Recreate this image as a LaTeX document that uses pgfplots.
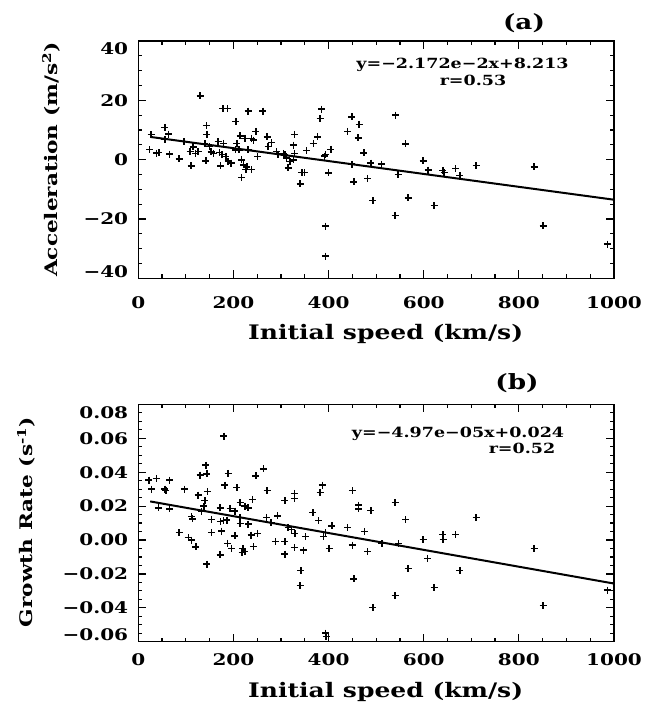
\documentclass[border=0pt]{standalone}
\usepackage{fontspec}
\setmainfont{DejaVu Serif}[FakeStretch=1.25]
\usepackage{pgfplots}
\usepackage{pgfplotstable}
\pgfplotsset{compat=1.18}

\pgfplotstableread{
x y
24 3.4
27 8.4
38 2.2
43 2.4
56 10.9
56 6.9
64 8.6
66 1.9
86 0.3
96 6.1
109 2.8
111 -2.1
115 4.3
120 2.1
126 2.7
130 21.5
140 5.5
143 11.5
144 8.5
142 -0.4
150 4.4
153 2.6
158 2.1
168 6.1
171 2.4
173 -2.1
176 1.8
178 17.2
188 17.2
179 5.5
184 1.0
189 -0.5
195 -1.2
205 12.9
204 3.3
207 5.5
214 8.0
212 3.3
217 -0.1
217 -6.0
221 -1.8
226 -3.4
228 -2.4
238 -3.4
224 7.2
231 16.4
231 3.3
238 7.2
242 6.6
247 9.5
251 1.1
262 16.4
271 7.7
273 4.4
280 5.7
291 2.7
294 1.9
305 2.1
308 1.6
312 0.5
315 -2.8
319 -0.7
326 -0.1
328 8.5
326 4.9
328 2.1
340 -8.2
344 -4.4
349 -4.4
354 3.0
368 5.5
377 7.7
382 13.9
385 17.0
391 1.2
394 1.8
394 -22.4
394 -32.5
400 -4.5
405 3.5
440 9.5
449 14.4
449 -1.5
453 -7.5
462 7.3
464 11.9
474 2.3
482 -6.3
489 -1.2
493 -13.8
511 -1.5
541 15.0
540 -18.8
546 -5.0
562 5.3
567 -12.9
599 -0.4
609 -3.5
622 -15.5
640 -3.6
643 -4.3
667 -3.0
676 -5.4
710 -2.0
832 -2.4
851 -22.3
986 -28.5
}\acctable

\pgfplotstableread{
x y
22 0.0354
28 0.030
38 0.0364
42 0.019
56 0.030
58 0.0293
66 0.0354
66 0.0183
86 0.0043
97 0.030
105 0.0014
112 0.0138
114 0.0125
112 0.000
121 -0.004
126 0.0265
130 0.0383
133 0.0167
138 0.020
140 0.0232
142 0.0442
144 0.039
145 0.0285
144 -0.0142
154 0.0043
154 0.0122
172 0.019
172 -0.0088
173 0.0108
175 0.0053
179 0.0114
180 0.0613
182 0.0324
186 0.0118
189 0.0393
188 -0.002
193 0.0187
196 -0.005
203 0.0171
203 0.0024
207 0.0309
214 0.022
214 0.0134
214 0.0098
218 -0.0075
220 -0.005
224 -0.0069
224 0.020
231 0.019
231 0.0094
237 0.0029
240 0.024
242 -0.0039
247 0.0379
251 0.0039
263 0.0419
271 0.0291
270 0.0134
279 0.0104
288 -0.001
293 0.0142
308 0.0232
308 -0.001
308 -0.0083
315 0.0075
322 0.0063
328 0.0275
328 0.0246
329 0.0039
328 -0.0045
340 -0.0269
342 -0.0181
347 -0.0059
352 0.002
367 0.0161
379 0.0114
382 0.0281
387 0.0324
389 0.002
394 0.0043
394 -0.055
395 -0.057
401 -0.0049
407 0.0083
440 0.0073
450 0.0291
450 -0.003
453 -0.023
463 0.0206
463 0.0183
475 0.0049
482 -0.0069
489 0.0173
493 -0.0398
512 -0.0022
540 0.0221
540 -0.0328
547 -0.0022
562 0.012
567 -0.0169
599 0.0002
608 -0.0108
622 -0.028
640 0.0032
641 0.0002
667 0.0031
676 -0.0179
710 0.0132
832 -0.0049
851 -0.0387
986 -0.0295
}\grtable

\newcommand{\tl}[2]{\raisebox{#1}[0pt][0pt]{#2}}

\pgfplotsset{idl/.style={
  scale only axis, width=475.7pt, height=237.3pt, anchor=south west,
  xmin=0, xmax=1000, xtick={0,200,400,600,800,1000},
  xticklabels={0,200,400,600,800,1000},
  scaled x ticks=false, scaled y ticks=false,
  minor x tick num=3, minor y tick num=3,
  tick align=inside, xtick pos=both, ytick pos=both,
  major tick length=8pt, minor tick length=4pt,
  axis line style={line width=1.5pt},
  every tick/.style={line width=1.2pt, black},
  /pgf/number format/assume math mode=true,
  xticklabel style={font=\fontsize{16}{16}\selectfont\bfseries, anchor=center, inner sep=0pt},
  yticklabel style={font=\fontsize{16}{16}\selectfont\bfseries, anchor=east, inner sep=0pt, xshift=-10pt},
  xlabel style={font=\fontsize{20}{20}\selectfont\bfseries, anchor=center},
  ylabel style={font=\fontsize{17.3}{17.3}\selectfont\bfseries, anchor=center},
}}

\begin{document}
\begin{tikzpicture}[x=1pt,y=1pt]
\path[use as bounding box] (0,0) rectangle (659,709);

\begin{axis}[idl, at={(138.3pt,430.7pt)},
  ymin=-40, ymax=40, ytick={-40,-20,0,20,40},
  yticklabels={\tl{1.2pt}{−40},\tl{-5.8pt}{−20},\tl{-5.8pt}{0},\tl{-5.8pt}{20},\tl{-13.8pt}{40}},
  xticklabel style={yshift=-24pt},
  xlabel={Initial speed (km/s)},
  xlabel style={at={(axis description cs:0.52,-0.235)}},
  ylabel={Acceleration (m/s\textsuperscript{2})},
  ylabel style={at={(axis description cs:-0.1835,0.5)}},
]
\addplot[only marks, mark=+, mark size=3.5pt, mark options={line width=1.5pt}, black] table[x=x,y=y] {\acctable};
\addplot[black, line width=2pt] coordinates {(25,7.670) (1000,-13.507)};
\end{axis}

\begin{axis}[idl, at={(138.3pt,67.3pt)},
  ymin=-0.06, ymax=0.08, ytick={-0.06,-0.04,-0.02,0,0.02,0.04,0.06,0.08},
  yticklabels={\tl{1.2pt}{−0.06},\tl{-5.8pt}{−0.04},\tl{-5.8pt}{−0.02},\tl{-5.8pt}{0.00},\tl{-5.8pt}{0.02},\tl{-5.8pt}{0.04},\tl{-5.8pt}{0.06},\tl{-13.8pt}{0.08}},
  xticklabel style={yshift=-17.5pt},
  xlabel={Initial speed (km/s)},
  xlabel style={at={(axis description cs:0.52,-0.212)}},
  ylabel={Growth Rate (s\textsuperscript{-1})},
  ylabel style={at={(axis description cs:-0.236,0.504)}},
]
\addplot[only marks, mark=+, mark size=3.5pt, mark options={line width=1.5pt}, black] table[x=x,y=y] {\grtable};
\addplot[black, line width=2pt] coordinates {(25,0.02276) (1000,-0.0257)};
\end{axis}

\node[font=\fontsize{14}{14}\selectfont\bfseries] at (462.5,644) {y=−2.172e−2x+8.213};
\node[font=\fontsize{14}{14}\selectfont\bfseries] at (473,629) {r=0.53};
\node[font=\fontsize{14}{14}\selectfont\bfseries] at (458,275) {y=−4.97e−05x+0.024};
\node[font=\fontsize{14}{14}\selectfont\bfseries] at (522,260.7) {r=0.52};
\node[font=\fontsize{21}{21}\selectfont\bfseries] at (524,686) {(a)};
\node[font=\fontsize{21}{21}\selectfont\bfseries] at (517,326) {(b)};
\end{tikzpicture}
\end{document}
